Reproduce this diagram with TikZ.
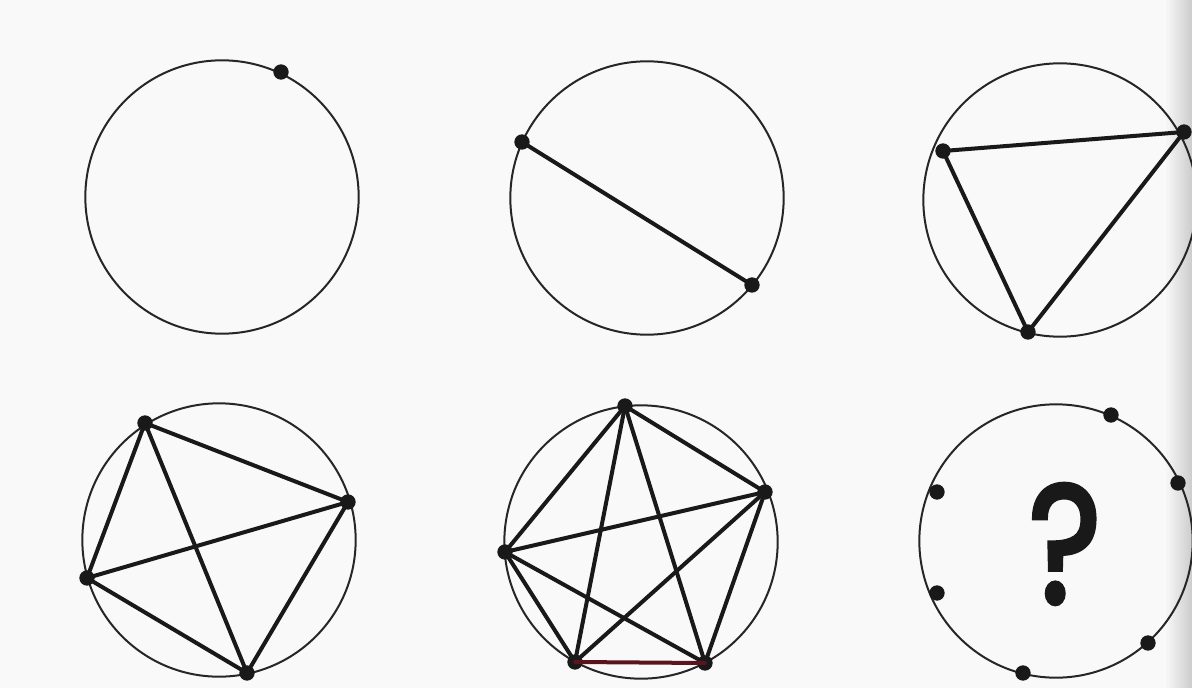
\documentclass[tikz,border=0pt]{standalone}
\usepackage{fontspec}
\newfontfamily\qfont{Poppins}[FakeBold=3]
\usepackage{tikz}
\begin{document}
\begin{tikzpicture}[x=0.75pt,y=-0.75pt,
  ring/.style={circle,draw=black!85,line width=1.5pt,inner sep=0pt,minimum size=205pt},
  dot/.style={circle,fill=black!90,inner sep=0pt,minimum size=11.5pt},
  chord/.style={line width=3pt,black!90,line cap=round}]
\fill[gray!5] (0,0) rectangle (1192,688);
\useasboundingbox (0,0) rectangle (1192,688);
% right-edge shadow of the scan
\shade[left color=gray!5,right color=gray!40] (1165,0) rectangle (1192,688);

% circle 1
\node[ring] (c1) at (222,197) {};
\node[dot] (a1) at (281,72) {};

% circle 2
\node[ring] (c2) at (647,198) {};
\node[dot] (b1) at (522,142) {};
\node[dot] (b2) at (752,285) {};
\draw[chord] (b1.center) -- (b2.center);

% circle 3
\node[ring] (c3) at (1060,200) {};
\node[dot] (t1) at (943,151) {};
\node[dot] (t2) at (1184,132) {};
\node[dot] (t3) at (1028,332) {};
\draw[chord] (t1.center) -- (t2.center) -- (t3.center) -- cycle;

% circle 4
\node[ring] (c4) at (219,540) {};
\node[dot] (q1) at (145,423) {};
\node[dot] (q2) at (348,502) {};
\node[dot] (q3) at (87,578) {};
\node[dot] (q4) at (247,673) {};
\draw[chord] (q1.center) -- (q2.center) -- (q4.center) -- (q3.center) -- cycle;
\draw[chord] (q1.center) -- (q4.center);
\draw[chord] (q2.center) -- (q3.center);

% circle 5
\node[ring] (c5) at (641,542) {};
\node[dot] (p1) at (625,406) {};
\node[dot] (p2) at (765,492) {};
\node[dot] (p3) at (505,552) {};
\node[dot] (p4) at (575,662) {};
\node[dot] (p5) at (705,663) {};
\foreach \u/\v in {p1/p2,p1/p3,p1/p4,p1/p5,p2/p3,p2/p4,p2/p5,p3/p4,p3/p5}
  \draw[chord] (\u.center) -- (\v.center);
\draw[chord,draw={rgb,255:red,90;green,20;blue,30}] (p4.center) -- (p5.center);

% circle 6
\node[ring] (c6) at (1056,541) {};
\node[dot] (s1) at (1111,415) {};
\node[dot] (s2) at (1178,483) {};
\node[dot] (s3) at (937,492) {};
\node[dot] (s4) at (937,593) {};
\node[dot] (s5) at (1148,643) {};
\node[dot] (s6) at (1023,673) {};
\node[font=\qfont\fontsize{126}{126}\selectfont,xscale=0.82,text=black!90] (qm) at (1065,544) {?};
\end{tikzpicture}
\end{document}
